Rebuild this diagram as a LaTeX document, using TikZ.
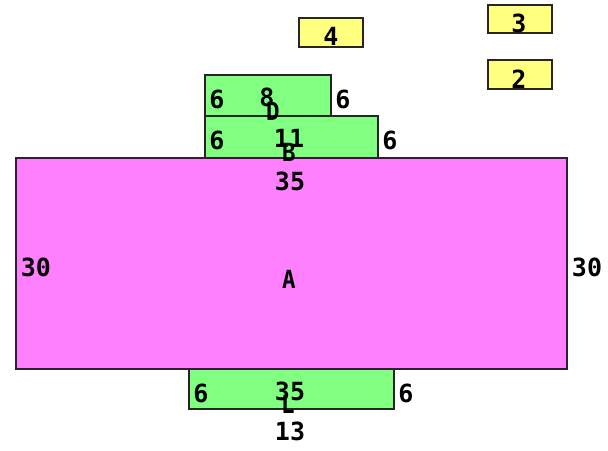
\documentclass[tikz,border=0pt]{standalone}
\usepackage{fontspec}
\setmonofont{DejaVu Sans Mono}
\definecolor{mag}{HTML}{FF80FF}
\definecolor{grn}{HTML}{80FF80}
\definecolor{yel}{HTML}{FFFF80}
\tikzset{
  box/.style={draw=black!85,line width=1.8pt},
  lab/.style={inner sep=0pt,font=\ttfamily\bfseries\fontsize{25}{25}\selectfont,text=black},
  letter/.style={lab,xscale=.9}
}
\begin{document}
\begin{tikzpicture}[x=1pt,y=-1pt]
\useasboundingbox (0,0) rectangle (608,450);
\draw[box,fill=mag] (16,158) rectangle (567,369);
\draw[box,fill=grn] (205,116) rectangle (378,158);
\draw[box,fill=grn] (205,75) rectangle (331,116);
\draw[box,fill=grn] (189,369) rectangle (394,409);
\draw[box,fill=yel] (299,18) rectangle (363,47);
\draw[box,fill=yel] (488,5) rectangle (552,33);
\draw[box,fill=yel] (488,60) rectangle (552,89);
\node[lab] (n4) at (331,36) {4};
\node[lab] (n3) at (519,23) {3};
\node[lab] (n2) at (519,79) {2};
\node[lab] (d6l) at (217,99) {6};
\node[lab] (d8) at (267,97) {8};
\node[letter] (dn) at (273,111) {D};
\node[lab] (d6r) at (343,99) {6};
\node[lab] (b6l) at (217,140) {6};
\node[lab] (b11) at (289,138) {11};
\node[letter] (bn) at (289,152) {B};
\node[lab] (b6r) at (390,140) {6};
\node[lab] (a35) at (290,181) {35};
\node[lab] (a30l) at (36,267) {30};
\node[letter] (an) at (289,279) {A};
\node[lab] (a30r) at (587,267) {30};
\node[lab] (c6l) at (201,393) {6};
\node[lab] (c35) at (290,391) {35};
\node[letter] (cn) at (288,404) {L};
\node[lab] (c6r) at (406,393) {6};
\node[lab] (c13) at (290,431) {13};
\end{tikzpicture}
\end{document}
